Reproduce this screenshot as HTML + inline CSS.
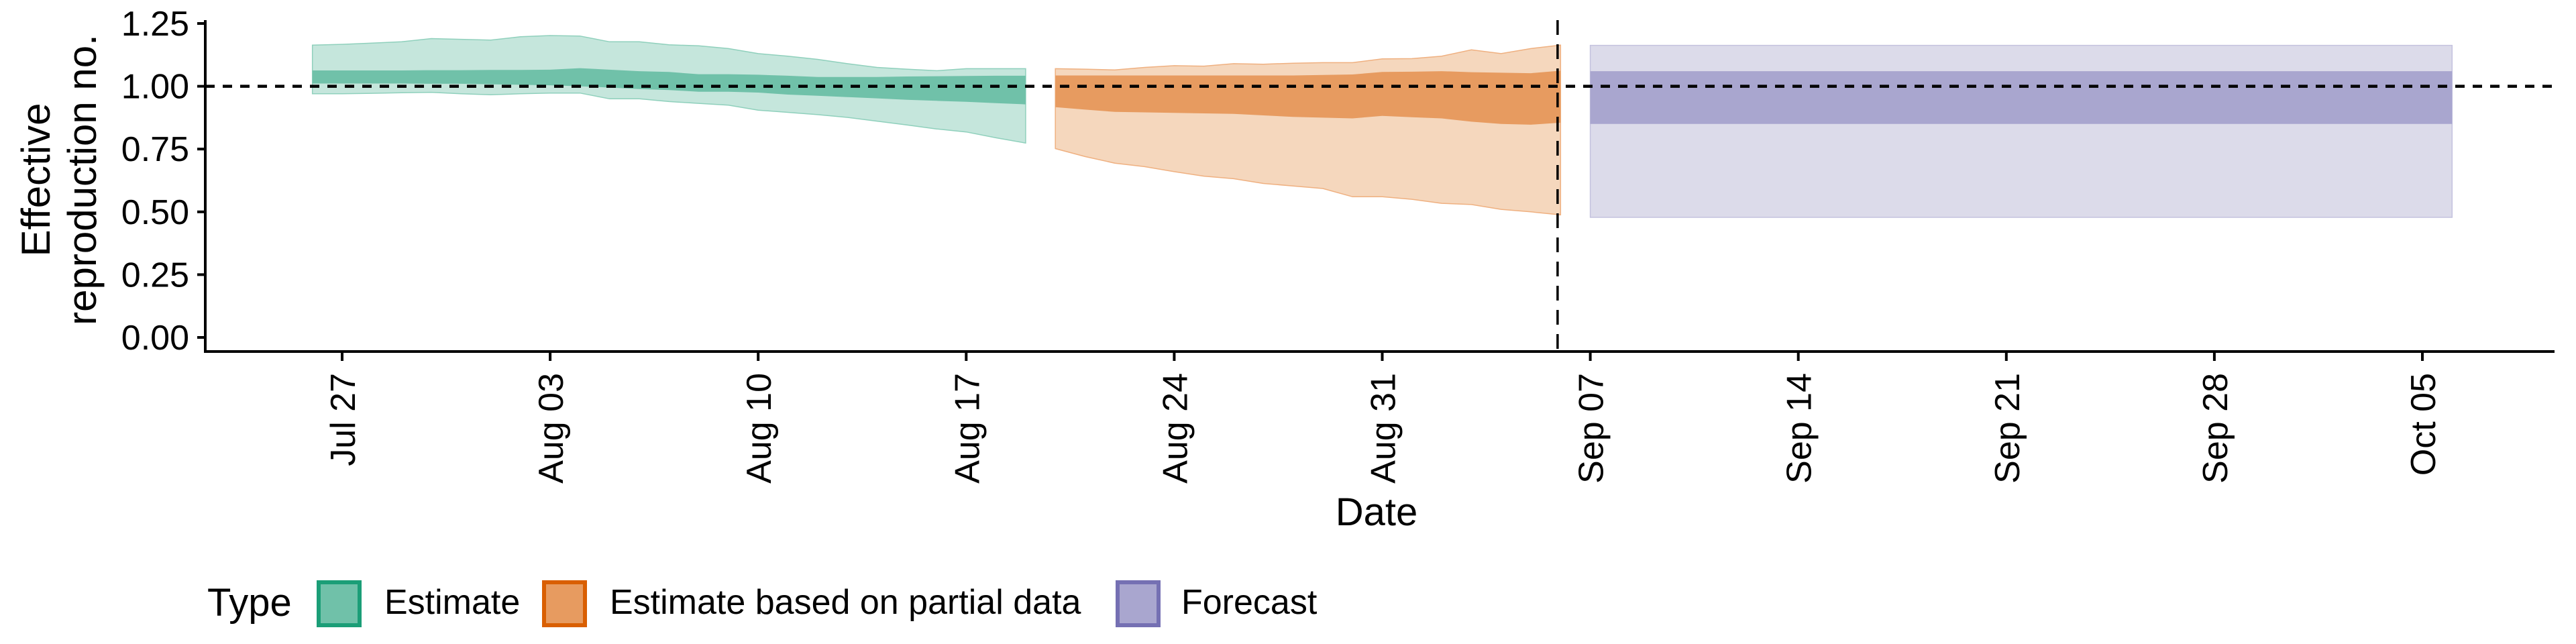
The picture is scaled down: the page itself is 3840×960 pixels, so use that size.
<!DOCTYPE html>
<html><head><meta charset="utf-8">
<style>
html,body{margin:0;padding:0;background:#fff;}
svg{display:block;font-family:"Liberation Sans",sans-serif;}
</style></head>
<body>
<svg id="chart" width="3840" height="960" viewBox="0 0 3840 960" xmlns="http://www.w3.org/2000/svg">
<g id="plot"></g>
<g id="axes"></g>
<g id="legend"></g>
</svg>
<script>
// ---- data ----
const yTicks = [0, 0.25, 0.5, 0.75, 1.0, 1.25];
const yTickLabels = ["0.00","0.25","0.50","0.75","1.00","1.25"];
const xTickDays = [0, 7, 14, 21, 28, 35, 42, 49, 56, 63, 70];
const xTickLabels = ["Jul 27","Aug 03","Aug 10","Aug 17","Aug 24","Aug 31","Sep 07","Sep 14","Sep 21","Sep 28","Oct 05"];
// days relative to Jul 27
const estDays = [-1,0,1,2,3,4,5,6,7,8,9,10,11,12,13,14,15,16,17,18,19,20,21,22,23];
const estUpper90 = [1.164,1.167,1.172,1.177,1.19,1.187,1.184,1.197,1.202,1.2,1.177,1.177,1.165,1.161,1.15,1.13,1.12,1.107,1.09,1.075,1.068,1.062,1.07,1.07,1.07];
const estUpper50 = [1.063,1.063,1.063,1.063,1.064,1.064,1.065,1.065,1.066,1.072,1.066,1.06,1.057,1.048,1.048,1.046,1.042,1.037,1.037,1.037,1.039,1.04,1.041,1.042,1.042];
const estLower50 = [1.011,1.011,1.011,1.011,1.01,1.01,1.008,1.006,1.004,1.0,0.995,0.989,0.985,0.978,0.978,0.975,0.967,0.962,0.957,0.952,0.946,0.942,0.938,0.933,0.928];
const estLower90 = [0.97,0.97,0.972,0.974,0.976,0.97,0.966,0.97,0.973,0.973,0.95,0.95,0.939,0.932,0.925,0.905,0.896,0.887,0.876,0.861,0.846,0.83,0.818,0.795,0.774];
const partDays = [24,25,26,27,28,29,30,31,32,33,34,35,36,37,38,39,40,41];
const partUpper90 = [1.07,1.068,1.065,1.075,1.082,1.08,1.09,1.088,1.092,1.094,1.094,1.109,1.11,1.12,1.145,1.13,1.15,1.164];
const partUpper50 = [1.043,1.043,1.043,1.043,1.043,1.043,1.043,1.043,1.043,1.045,1.047,1.057,1.058,1.06,1.056,1.054,1.052,1.062];
const partLower50 = [0.917,0.907,0.898,0.896,0.894,0.892,0.89,0.884,0.878,0.875,0.872,0.882,0.877,0.872,0.859,0.85,0.847,0.855];
const partLower90 = [0.752,0.72,0.694,0.68,0.66,0.642,0.632,0.613,0.603,0.593,0.56,0.56,0.55,0.534,0.529,0.51,0.5,0.488];
const fcDays = [42, 71];
const fcUpper90 = [1.163, 1.163];
const fcUpper50 = [1.06, 1.06];
const fcLower50 = [0.85, 0.85];
const fcLower90 = [0.478, 0.478];
const refLine = 1.0;
const cutoffDay = 40.9;

// ---- scales ----
const X0 = 510, PX_DAY = 44.3, Y0 = 503, PX_UNIT = 374.4;
function xs(d){ return X0 + d*PX_DAY; }
function ys(v){ return Y0 - v*PX_UNIT; }
const NS = "http://www.w3.org/2000/svg";
function mk(tag, attrs, parent){ const e=document.createElementNS(NS,tag); for(const k in attrs) e.setAttribute(k,attrs[k]); parent.appendChild(e); return e; }
const plot = document.getElementById('plot');
const axes = document.getElementById('axes');
const legend = document.getElementById('legend');

function ribbon(days, lo, hi, fill, stroke, name){
  let pts = days.map((d,i)=>xs(d).toFixed(1)+','+ys(hi[i]).toFixed(1));
  for(let i=days.length-1;i>=0;i--) pts.push(xs(days[i]).toFixed(1)+','+ys(lo[i]).toFixed(1));
  const p = mk('polygon',{points:pts.join(' '),fill:fill,stroke:stroke||'none','stroke-width':1.5},plot);
  
  
}
ribbon(estDays, estLower90, estUpper90, '#c5e6dc', '#8fd0bc', 'estimate-90-ribbon');
ribbon(estDays, estLower50, estUpper50, '#70c1a9', 'none', 'estimate-50-ribbon');
ribbon(partDays, partLower90, partUpper90, '#f5d7bd', '#efb080', 'partial-90-ribbon');
ribbon(partDays, partLower50, partUpper50, '#e79b60', 'none', 'partial-50-ribbon');
ribbon(fcDays, fcLower90, fcUpper90, '#dcdbea', '#c4c2de', 'forecast-90-ribbon');
ribbon(fcDays, fcLower50, fcUpper50, '#a9a6cf', 'none', 'forecast-50-ribbon');

let l = mk('line',{x1:306,x2:3808,y1:ys(refLine),y2:ys(refLine),stroke:'#000','stroke-width':4.5,'stroke-dasharray':'14 12'},plot);


l = mk('line',{x1:xs(cutoffDay),x2:xs(cutoffDay),y1:30,y2:524,stroke:'#000','stroke-width':3.5,'stroke-dasharray':'22 14'},plot);



// axes
l = mk('line',{x1:306,x2:306,y1:30,y2:526,stroke:'#000','stroke-width':4},axes);


l = mk('line',{x1:304,x2:3808,y1:524,y2:524,stroke:'#000','stroke-width':4},axes);


yTicks.forEach((v,i)=>{
  const t = mk('line',{x1:294,x2:306,y1:ys(v),y2:ys(v),stroke:'#000','stroke-width':4},axes);
  
  
  const tx = mk('text',{x:282,y:ys(v)+18,'text-anchor':'end','font-size':52,fill:'#000'},axes);
  tx.textContent = yTickLabels[i];
  
  
});
xTickDays.forEach((d,i)=>{
  const t = mk('line',{x1:xs(d),x2:xs(d),y1:524,y2:538,stroke:'#000','stroke-width':4},axes);
  
  
  const tx = mk('text',{x:0,y:0,'text-anchor':'end','font-size':52,fill:'#000',transform:`translate(${xs(d)+19},556) rotate(-90)`},axes);
  tx.textContent = xTickLabels[i];
  
  
});
let t = mk('text',{x:2052,y:783,'text-anchor':'middle','font-size':58,fill:'#000'},axes);
t.textContent='Date';


t = mk('text',{x:0,y:0,'text-anchor':'middle','font-size':60,fill:'#000',transform:'translate(74,268) rotate(-90)'},axes);
t.textContent='Effective';


t = mk('text',{x:0,y:0,'text-anchor':'middle','font-size':60,fill:'#000',transform:'translate(143,268) rotate(-90)'},axes);
t.textContent='reproduction no.';



// legend
t = mk('text',{x:309,y:918,'font-size':58,fill:'#000'},legend);
t.textContent='Type';


const legItems = [
  {x:472, tx:573, fill:'#70c1a9', stroke:'#1b9e77', label:'Estimate', name:'legend-entry-estimate'},
  {x:808, tx:909, fill:'#e79b60', stroke:'#d95f02', label:'Estimate based on partial data', name:'legend-entry-partial'},
  {x:1663, tx:1761, fill:'#a9a6cf', stroke:'#7570b3', label:'Forecast', name:'legend-entry-forecast'}
];
legItems.forEach(it=>{
  const g = mk('g',{},legend);
  
  
  mk('rect',{x:it.x+3,y:868,width:61,height:64,fill:it.fill,stroke:it.stroke,'stroke-width':6},g);
  const tt = mk('text',{x:it.tx,y:915,'font-size':52,fill:'#000'},g);
  tt.textContent = it.label;
});
</script>
</body></html>
